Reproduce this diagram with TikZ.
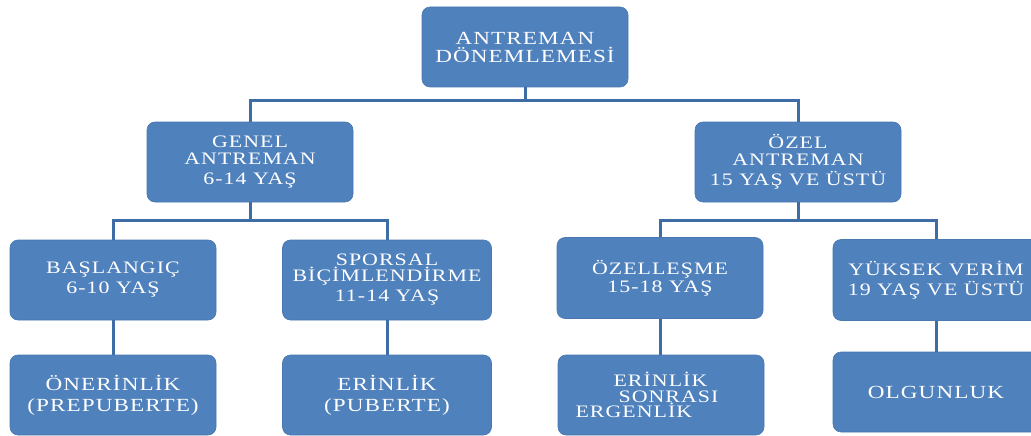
\documentclass[tikz,border=0pt]{standalone}
\usepackage{fontspec}
\setmainfont{Liberation Serif}
\newfontfamily\kutufont[FakeStretch=1.25,LetterSpace=6]{Liberation Serif}
\definecolor{kutumavi}{HTML}{4F81BD}
\definecolor{kutukenar}{HTML}{4A78B0}
\definecolor{baglanti}{HTML}{3E6DA6}

\begin{document}
\begin{tikzpicture}[x=1pt,y=-1pt,
    kutu/.style={fill=kutumavi,draw=kutukenar,line width=0.6pt,rounded corners=8pt,
      minimum width=206pt,minimum height=80pt,inner sep=0pt,text=white,align=center,
      font=\kutufont\fontsize{17.5}{20}\selectfont},
    altkutu/.style={kutu,font=\kutufont\fontsize{18.5}{21}\selectfont},
    bag/.style={draw=baglanti,line width=3pt}]
			%%%%% START %%%%%
			\useasboundingbox (0,0) rectangle (1031,436);
			
			\node[kutu,font=\kutufont\fontsize{18.5}{18}\selectfont] (donem) at (525,47) {ANTREMAN\\DÖNEMLEMESİ};
			
			\node[kutu] (genel) at (250,162) {GENEL\\[-3.5pt]ANTREMAN\\6-14 YAŞ};
			\node[kutu] (ozel) at (798,162) {ÖZEL\\[-3.5pt]ANTREMAN\\15 YAŞ VE ÜSTÜ};
			
			\node[kutu] (baslangic) at (113,280) {BAŞLANGIÇ\\6-10 YAŞ};
			\node[kutu,minimum width=209pt] (sporsal) at (387,280) {SPORSAL\\[-4pt]BİÇİMLENDİRME\\11-14 YAŞ};
			\node[kutu,minimum height=81pt] (ozellesme) at (660,278) {ÖZELLEŞME\\[-2pt]15-18 YAŞ};
			\node[kutu,minimum height=81pt] (yuksek) at (936,280) {YÜKSEK VERİM\\19 YAŞ VE ÜSTÜ};
			
			\node[altkutu] (oner) at (113,395) {ÖNERİNLİK\\(PREPUBERTE)};
			\node[altkutu,minimum width=209pt] (erin) at (387,395) {ERİNLİK\\(PUBERTE)};
			\node[kutu,align=left,font=\kutufont\fontsize{17.5}{15.5}\selectfont] (ergen) at (661,395)
			  {\hspace*{38pt}ERİNLİK\\\hspace*{43pt}SONRASI\rule{28pt}{0pt}\\ERGENLİK};
			\node[altkutu] (olgun) at (936,392) {OLGUNLUK};
			
			\draw[bag] (donem.south) -- ++(0,13) -| (genel.north);
			\draw[bag] (donem.south) -- ++(0,13) -| (ozel.north);
			
			\draw[bag] (genel.south) -- ++(0,18) -| (baslangic.north);
			\draw[bag] (genel.south) -- ++(0,18) -| (sporsal.north);
			\draw[bag] (ozel.south) -- ++(0,18) -| (ozellesme.north);
			\draw[bag] (ozel.south) -- ++(0,18) -| (yuksek.north);
			
			\draw[bag] (baslangic.south) -- (baslangic.south |- oner.north);
			\draw[bag] (sporsal.south) -- (sporsal.south |- erin.north);
			\draw[bag] (ozellesme.south) -- (ozellesme.south |- ergen.north);
			\draw[bag] (yuksek.south) -- (yuksek.south |- olgun.north);
			%%%%% END %%%%%
\end{tikzpicture}
\end{document}
